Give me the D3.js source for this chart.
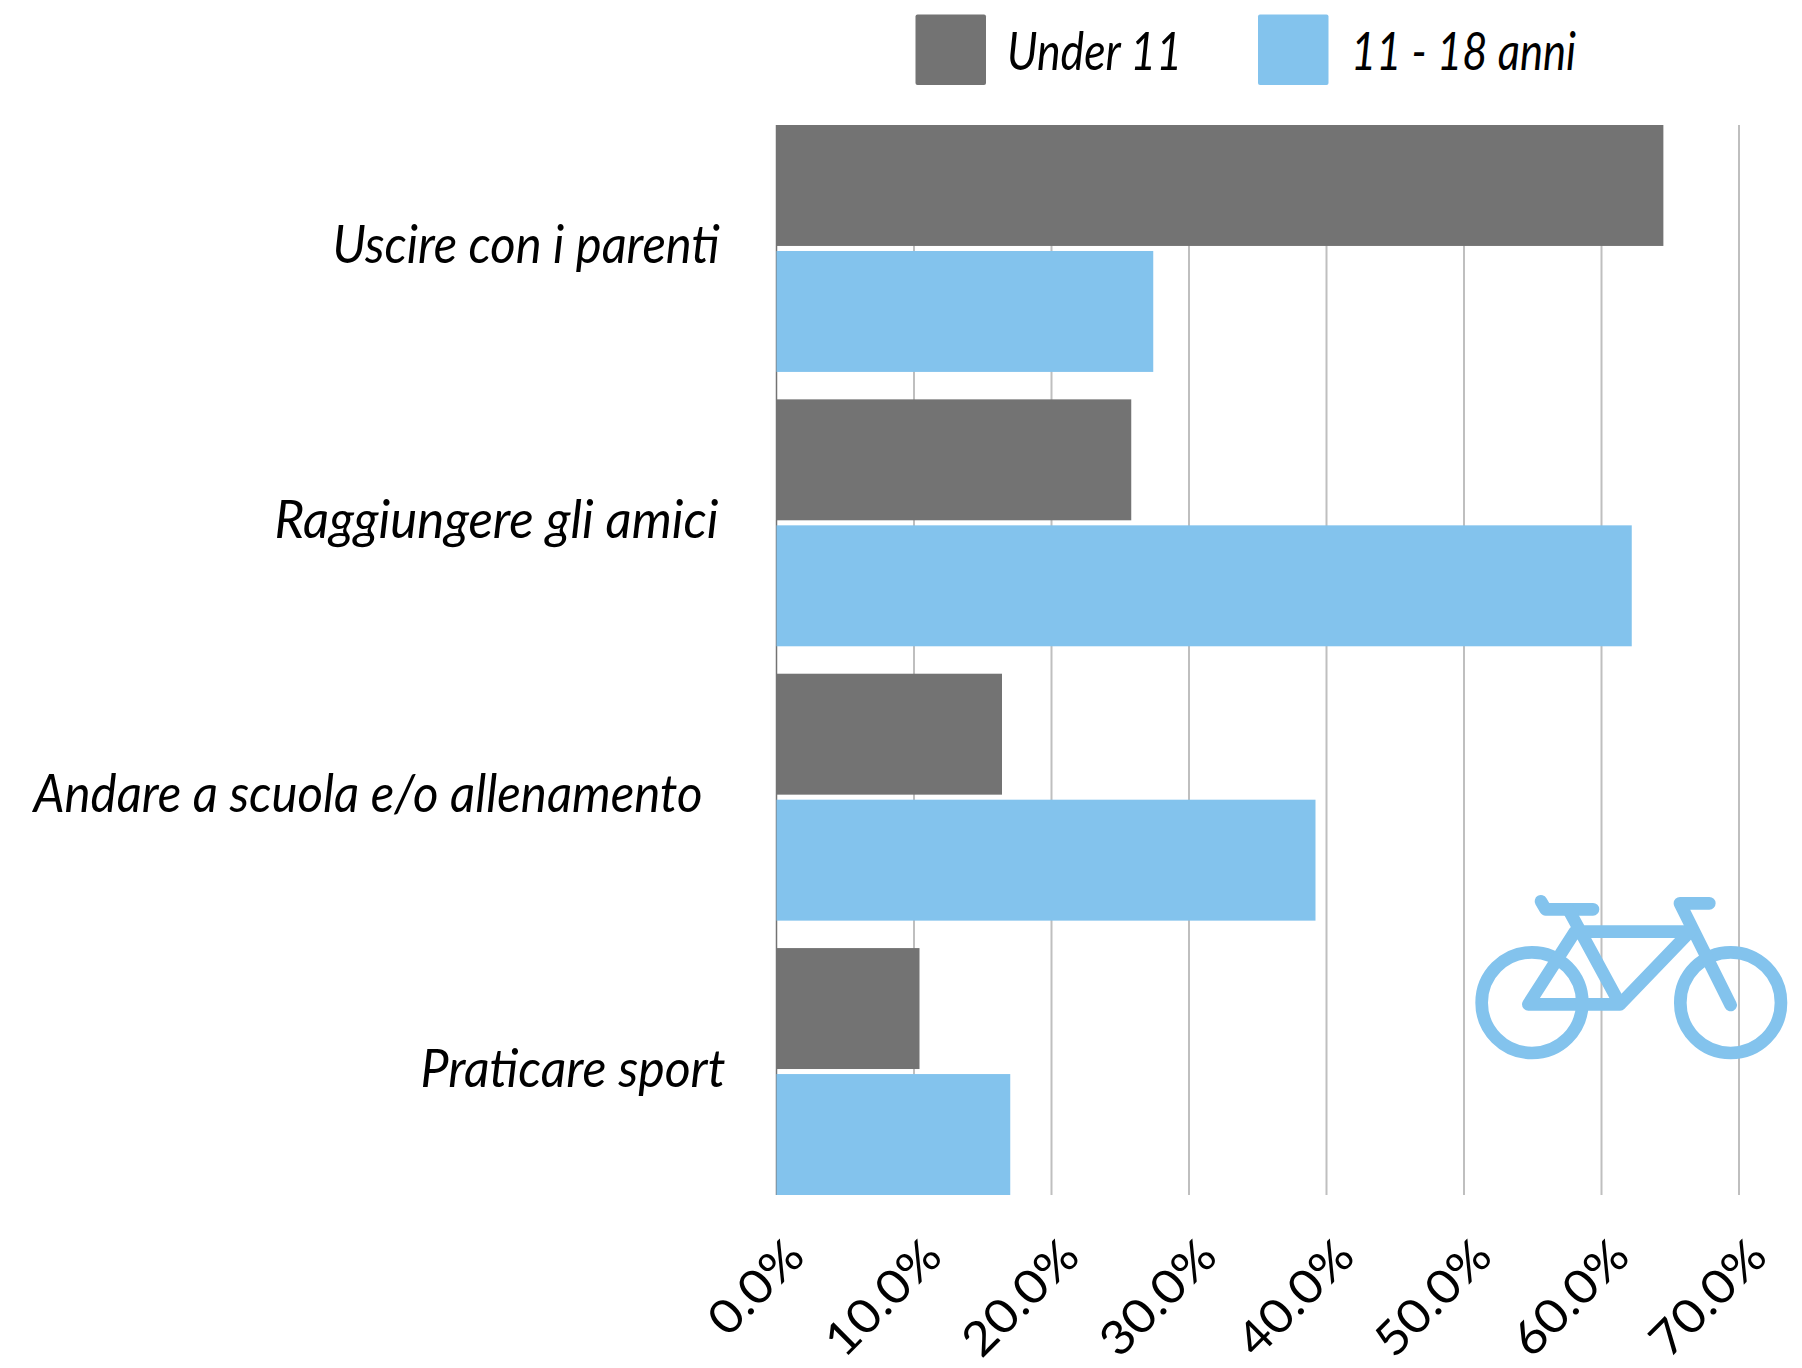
<!DOCTYPE html>
<html>
<head>
<meta charset="utf-8">
<script src="https://cdn.jsdelivr.net/npm/d3@7"></script>
<style>
  html, body { margin: 0; padding: 0; background: #fff; }
  svg { display: block; }
</style>
</head>
<body>
<script>
var categories = ['Uscire con i parenti', 'Raggiungere gli amici', 'Andare a scuola e/o allenamento', 'Praticare sport'];
var seriesNames = ['Under 11', '11 - 18 anni'];
var under11 = [64.5, 25.8, 16.4, 10.4];
var teens = [27.4, 62.2, 39.2, 17.0];
var xTicks = [0, 10, 20, 30, 40, 50, 60, 70];

var width = 1802;
var height = 1368;
var grey = '#737373';
var blue = '#83c3ed';
var labelFont = 'Lato, sans-serif';

var svg = d3.select('body')
	.append('svg')
		.attr('width', width)
		.attr('height', height);

var x = d3.scaleLinear().domain([0, 70]).range([776.5, 1739]);
var y = d3.scaleBand().domain(categories).range([125, 1195]).paddingInner(0.1).paddingOuter(0);
var inner = d3.scaleBand().domain(seriesNames).range([0, y.bandwidth()]).paddingInner(0.04);

// gridlines first, the bars sit on top of them
svg.append('g')
	.selectAll('line')
	.data(xTicks.slice(1))
	.join('line')
		.attr('x1', d => x(d))
		.attr('x2', d => x(d))
		.attr('y1', 125)
		.attr('y2', 1195)
		.style('stroke', '#bfbfbf')
		.style('stroke-width', 2);

svg.append('line')
	.attr('x1', x(0))
	.attr('x2', x(0))
	.attr('y1', 125)
	.attr('y2', 1195)
	.style('stroke', grey)
	.style('stroke-width', 1.5);

[under11, teens].forEach((serie, i) => {
	svg.append('g')
		.selectAll('rect')
		.data(serie)
		.join('rect')
			.attr('x', x(0))
			.attr('y', (d, j) => y(categories[j]) + inner(seriesNames[i]))
			.attr('width', d => x(d) - x(0))
			.attr('height', inner.bandwidth())
			.style('fill', i == 0 ? grey : blue);
});

// the category labels do not share one right edge in the original
var labelEnd = [719.5, 718.5, 702.5, 725.5];
var labelLength = [387, 444, 669, 305];

svg.append('g')
	.selectAll('text')
	.data(categories)
	.join('text')
		.attr('x', (d, i) => labelEnd[i])
		.attr('y', d => y(d) + y.bandwidth() / 2 + 15)
		.attr('text-anchor', 'end')
		.attr('textLength', (d, i) => labelLength[i])
		.attr('lengthAdjust', 'spacingAndGlyphs')
		.style('font-family', labelFont)
		.style('font-style', 'italic')
		.style('font-size', '52px')
		.style('fill', '#000')
		.text(d => d);

// legend
var legendX = [915.5, 1258];
var legendTextX = [1007, 1351];
var legendTextLength = [175, 225];
seriesNames.forEach((name, i) => {
	svg.append('rect')
		.attr('x', legendX[i])
		.attr('y', 14.5)
		.attr('width', 70.5)
		.attr('height', 70.5)
		.attr('rx', 2)
		.style('fill', i == 0 ? grey : blue);
	svg.append('text')
		.attr('x', legendTextX[i])
		.attr('y', 70)
		.attr('textLength', legendTextLength[i])
		.attr('lengthAdjust', 'spacingAndGlyphs')
		.style('font-family', labelFont)
		.style('font-style', 'italic')
		.style('font-size', '52px')
		.style('fill', '#000')
		.text(name);
});

// x axis, labels turned 45 degrees
var xAxis = d3.axisBottom(x)
	.tickValues(xTicks)
	.tickSize(0)
	.tickFormat(d => d3.format('.1f')(d) + '%');

var axisG = svg.append('g')
	.attr('transform', 'translate(0,1195)')
	.call(xAxis);

axisG.select('.domain').remove();

axisG.selectAll('text')
	.attr('x', 0)
	.attr('y', 0)
	.attr('dy', 0)
	.attr('text-anchor', 'end')
	.attr('transform', 'translate(30,64) rotate(-45)')
	.style('font-family', labelFont)
	.style('font-size', '47px')
	.style('fill', '#000')
	.each(function() {
		// the original face runs wider than Lato
		d3.select(this)
			.attr('textLength', this.getComputedTextLength() * 1.09)
			.attr('lengthAdjust', 'spacingAndGlyphs');
	});

// bicycle icon
var bike = svg.append('g')
	.attr('transform', 'translate(1440,870) scale(0.3333)')
	.style('fill', 'none')
	.style('stroke', blue)
	.style('stroke-width', 38)
	.style('stroke-linecap', 'round')
	.style('stroke-linejoin', 'round');

bike.append('circle').attr('cx', 276).attr('cy', 398).attr('r', 151);
bike.append('circle').attr('cx', 872).attr('cy', 398).attr('r', 151);
bike.append('path').attr('d', 'M303,94 L317,118 L459,118');
bike.append('path').attr('d', 'M808,100 L720,100 L872,405');
bike.append('path').attr('d', 'M385,118 L540,403 L265,403 L405,185 L750,185 L540,403');
</script>
</body>
</html>
